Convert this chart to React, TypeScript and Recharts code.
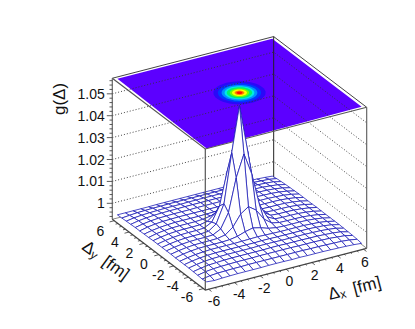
import { ScatterChart, Scatter, XAxis, YAxis } from "recharts";

const WIDTH = 415;
const HEIGHT = 329;
const FONT = "'Liberation Sans', Arial, sans-serif";

// mesh nodes, -6 .. 6 in steps of 0.6 on both axes
const meshAxis = [
  -6, -5.4, -4.8, -4.2, -3.6, -3, -2.4, -1.8, -1.2, -0.6, 0, 0.6, 1.2, 1.8, 2.4, 3, 3.6, 4.2, 4.8, 5.4, 6,
];

// g(x, y), in units of 1e-4 above 0.99; rows run from y = -6 to y = 6
const surfaceRows = [
  [54, 51, 53, 54, 55, 55, 55, 55, 56, 56, 56, 55, 56, 55, 55, 55, 54, 53, 52, 50, 47],
  [51, 57, 60, 61, 62, 62, 63, 63, 63, 63, 63, 63, 63, 63, 62, 62, 61, 60, 59, 56, 50],
  [53, 60, 64, 66, 67, 68, 68, 68, 69, 69, 69, 69, 69, 68, 68, 68, 67, 66, 63, 60, 52],
  [54, 61, 66, 68, 70, 71, 71, 71, 71, 71, 72, 72, 71, 71, 71, 70, 70, 68, 66, 62, 53],
  [55, 62, 67, 70, 71, 72, 72, 72, 72, 73, 73, 73, 72, 72, 72, 72, 71, 70, 67, 63, 54],
  [55, 62, 67, 70, 72, 72, 72, 72, 72, 72, 73, 73, 72, 72, 72, 72, 72, 70, 68, 63, 55],
  [55, 62, 67, 70, 72, 72, 72, 72, 73, 74, 75, 74, 73, 72, 72, 72, 72, 70, 68, 63, 55],
  [55, 63, 68, 71, 72, 72, 72, 74, 80, 92, 100, 92, 80, 74, 72, 72, 72, 71, 68, 63, 55],
  [56, 63, 68, 71, 72, 72, 73, 80, 107, 157, 182, 157, 107, 80, 73, 72, 72, 71, 68, 63, 55],
  [56, 63, 68, 71, 72, 72, 74, 92, 157, 307, 407, 307, 157, 92, 74, 72, 72, 71, 68, 63, 55],
  [56, 63, 68, 71, 72, 72, 75, 100, 182, 407, 612, 407, 182, 100, 75, 72, 72, 71, 68, 63, 56],
  [56, 63, 68, 71, 72, 72, 74, 92, 157, 307, 407, 307, 157, 92, 74, 72, 72, 71, 68, 63, 55],
  [56, 63, 68, 71, 72, 72, 73, 80, 107, 157, 182, 157, 107, 80, 73, 72, 72, 71, 68, 63, 55],
  [55, 63, 68, 71, 72, 72, 72, 74, 80, 92, 100, 92, 80, 74, 72, 72, 72, 71, 68, 63, 55],
  [55, 62, 67, 70, 72, 72, 72, 72, 73, 74, 75, 74, 73, 72, 72, 72, 72, 70, 68, 63, 55],
  [54, 62, 67, 70, 71, 72, 72, 72, 72, 72, 72, 72, 72, 72, 72, 72, 71, 70, 67, 62, 54],
  [54, 61, 66, 69, 70, 71, 71, 71, 72, 72, 72, 72, 71, 71, 71, 71, 70, 69, 66, 61, 53],
  [53, 60, 64, 67, 68, 69, 69, 70, 70, 70, 70, 70, 70, 70, 69, 69, 68, 67, 64, 60, 52],
  [52, 58, 61, 63, 64, 65, 65, 65, 66, 66, 66, 66, 66, 65, 65, 65, 64, 63, 61, 58, 50],
  [51, 54, 57, 58, 59, 59, 60, 60, 60, 60, 60, 60, 60, 60, 60, 59, 59, 58, 56, 54, 48],
  [50, 50, 50, 50, 50, 51, 51, 51, 51, 51, 51, 51, 51, 51, 51, 51, 50, 50, 49, 47, 44],
];

// colour rings of the map on the lid, outermost first
const ringRadii = [1.75, 1.45, 1.2, 1.0, 0.85, 0.65, 0.5, 0.33, 0.2];
const ringColors = ["#2a08f8", "#0038ff", "#0090ff", "#00e8e8", "#00f070", "#70ff00", "#ffff00", "#ff8000", "#ff1000"];

const gTicks = [1, 1.01, 1.02, 1.03, 1.04, 1.05];
const gMinorTicks = [
  0.994, 0.996, 0.998, 1.002, 1.004, 1.006, 1.008, 1.012, 1.014, 1.016, 1.018, 1.022, 1.024, 1.026, 1.028, 1.032,
  1.034, 1.036, 1.038, 1.042, 1.044, 1.046, 1.048, 1.052, 1.054, 1.056,
];
const deltaTicks = [-6, -4, -2, 0, 2, 4, 6];
const deltaMinorTicks = [-5.5, -5, -4.5, -3.5, -3, -2.5, -1.5, -1, -0.5, 0.5, 1, 1.5, 2.5, 3, 3.5, 4.5, 5, 5.5];

const BOX = 6.25;
const Z_FLOOR = 0.9927;
const Z_TOP = 1.0571;

// oblique view of the cube, gives page pixels that the hidden axes then map 1:1
const project = (x: number, y: number, z: number) => ({
  sx: 205.3 + (x + BOX) * 12.91 - (y + BOX) * 7.44,
  sy: 290 - (x + BOX) * 3.336 - (y + BOX) * 5.656 - (z - Z_FLOOR) * 2190,
});

const heightAt = (col: number, row: number) => 0.99 + surfaceRows[row][col] / 10000;

const polygonPoint = (corners: { sx: number; sy: number }[]) => ({
  ...corners[0],
  corners,
});

// painted from the far corner to the near one so the white cells hide what is behind
const meshCells: any[] = [];
for (let row = meshAxis.length - 2; row >= 0; row--) {
  for (let col = meshAxis.length - 2; col >= 0; col--) {
    meshCells.push(
      polygonPoint([
        project(meshAxis[col], meshAxis[row], heightAt(col, row)),
        project(meshAxis[col + 1], meshAxis[row], heightAt(col + 1, row)),
        project(meshAxis[col + 1], meshAxis[row + 1], heightAt(col + 1, row + 1)),
        project(meshAxis[col], meshAxis[row + 1], heightAt(col, row + 1)),
      ]),
    );
  }
}

const lid = [
  polygonPoint([
    project(-6, -6, Z_TOP - 0.0008),
    project(6, -6, Z_TOP),
    project(6, 6, Z_TOP),
    project(-6, 6, Z_TOP),
  ]),
];

const ringPoint = (radius: number, index: number) => {
  const t = (index / 48) * 2 * Math.PI;
  return project(radius * Math.cos(t), radius * Math.sin(t), Z_TOP);
};
const rings = ringRadii.map((radius) =>
  polygonPoint(Array.from({ length: 48 }, (_, i) => ringPoint(radius, i))),
);

const PolygonMark = (props: any) => {
  const { cx, cy, payload, fill, stroke, strokeWidth } = props;
  const shiftX = cx - payload.sx;
  const shiftY = cy - payload.sy;
  const points = payload.corners.map((c: any) => `${c.sx + shiftX},${c.sy + shiftY}`).join(" ");
  return <polygon points={points} fill={fill} stroke={stroke ?? "none"} strokeWidth={strokeWidth} strokeLinejoin="round" />;
};

const TickMark = (props: any) => {
  const { cx, cy, payload } = props;
  return <line x1={cx} y1={cy} x2={cx + payload.dx} y2={cy + payload.dy} stroke="#333" strokeWidth={0.8} />;
};

const TextMark = (props: any) => {
  const { cx, cy, payload } = props;
  return (
    <text
      x={cx}
      y={cy}
      textAnchor={payload.anchor ?? "middle"}
      dominantBaseline="central"
      fontFamily={FONT}
      fontSize={payload.size ?? 14}
      fill="#111"
      transform={payload.angle ? `rotate(${payload.angle} ${cx} ${cy})` : undefined}
    >
      {payload.text}
      {payload.sub ? (
        <tspan dy={3} fontSize={12}>
          {payload.sub}
        </tspan>
      ) : null}
      {payload.unit ? (
        <tspan dy={payload.sub ? -3 : 0} dx={8}>
          {payload.unit}
        </tspan>
      ) : null}
    </text>
  );
};

const NoMark = () => <g />;

const shifted = (p: { sx: number; sy: number }, dx: number, dy: number) => ({ sx: p.sx + dx, sy: p.sy + dy });

// dotted level lines on the two back walls
const levelLines = gTicks.map((g) => [project(-BOX, BOX, g), project(BOX, BOX, g), project(BOX, -BOX, g)]);

const boxEdges = [
  { color: "#444", width: 1, points: [project(-BOX, BOX, Z_TOP), project(BOX, BOX, Z_TOP), project(BOX, -BOX, Z_TOP)] },
  { color: "#222", width: 1, points: [project(BOX, BOX, Z_TOP), project(BOX, BOX, Z_FLOOR)] },
  { color: "#555", width: 1.2, points: [project(-BOX, BOX, Z_TOP), project(-BOX, -BOX, Z_TOP), project(BOX, -BOX, Z_TOP)] },
  { color: "#666", width: 1.2, points: [project(-BOX, BOX, Z_TOP), project(-BOX, BOX, Z_FLOOR)] },
  { color: "#666", width: 1.2, points: [project(BOX, -BOX, Z_TOP), project(BOX, -BOX, Z_FLOOR)] },
  { color: "#888", width: 1, points: [project(-BOX, BOX, Z_FLOOR), project(BOX, BOX, Z_FLOOR), project(BOX, -BOX, Z_FLOOR)] },
];

const frontEdges = [
  { color: "#555", width: 1.2, points: [project(-BOX, -BOX, Z_TOP), project(-BOX, -BOX, Z_FLOOR)] },
  { color: "#444", width: 1.2, points: [project(-BOX, BOX, Z_FLOOR), project(-BOX, -BOX, Z_FLOOR), project(BOX, -BOX, Z_FLOOR)] },
];

const zTickMarks = [
  ...gTicks.map((g) => ({ ...project(-BOX, BOX, g), dx: -5.5, dy: 0 })),
  ...gMinorTicks.map((g) => ({ ...project(-BOX, BOX, g), dx: -2.8, dy: 0 })),
];
const xTickMarks = [
  ...deltaTicks.map((x) => ({ ...project(x, -BOX, Z_FLOOR), dx: 3, dy: 2.3 })),
  ...deltaMinorTicks.map((x) => ({ ...project(x, -BOX, Z_FLOOR), dx: 1.5, dy: 1.2 })),
];
const yTickMarks = [
  ...deltaTicks.map((y) => ({ ...project(-BOX, y, Z_FLOOR), dx: -4.5, dy: 1.2 })),
  ...deltaMinorTicks.map((y) => ({ ...project(-BOX, y, Z_FLOOR), dx: -2.3, dy: 0.6 })),
];

const tickLabels = [
  ...gTicks.map((g) => ({ ...shifted(project(-BOX, BOX, g), -7.5, 0), text: String(g), anchor: "end" })),
  ...deltaTicks.map((x) => ({ ...shifted(project(x * 0.975, -BOX, Z_FLOOR), 3.5, 12), text: String(x) })),
  ...deltaTicks.map((y) => ({ ...shifted(project(-BOX, y * 0.97, Z_FLOOR), -15, 9), text: String(y) })),
];

const axisTitles = [
  { sx: 59, sy: 99, text: "g(\u0394)", size: 17, angle: -90 },
  { sx: 106, sy: 260, text: "\u0394", sub: "y", unit: "[fm]", size: 17, angle: 36 },
  { sx: 354.5, sy: 288, text: "\u0394", sub: "x", unit: "[fm]", size: 17, angle: -14.5 },
];

const App = () => (
  <div style={{ position: "absolute", left: 0, top: 0 }}>
    <ScatterChart width={WIDTH} height={HEIGHT} margin={{ top: 0, right: 0, bottom: 0, left: 0 }}>
      <XAxis type="number" dataKey="sx" domain={[0, WIDTH]} hide />
      <YAxis type="number" dataKey="sy" domain={[0, HEIGHT]} reversed hide />

      <Scatter data={lid} isAnimationActive={false} shape={(p: any) => <PolygonMark {...p} fill="#5c00ff" />} />
      {rings.map((ring, i) => (
        <Scatter
          key={ringRadii[i]}
          data={[ring]}
          isAnimationActive={false}
          shape={(p: any) => <PolygonMark {...p} fill={ringColors[i]} />}
        />
      ))}

      {levelLines.map((line, i) => (
        <Scatter
          key={gTicks[i]}
          data={line}
          isAnimationActive={false}
          shape={NoMark}
          line={{ stroke: "#333", strokeWidth: 0.9, strokeDasharray: "1 2", fill: "none" }}
        />
      ))}
      {boxEdges.map((edge, i) => (
        <Scatter
          key={`box-${i}`}
          data={edge.points}
          isAnimationActive={false}
          shape={NoMark}
          line={{ stroke: edge.color, strokeWidth: edge.width, fill: "none" }}
        />
      ))}

      <Scatter
        data={meshCells}
        isAnimationActive={false}
        shape={(p: any) => <PolygonMark {...p} fill="#ffffff" stroke="#2020b8" strokeWidth={0.8} />}
      />

      {frontEdges.map((edge, i) => (
        <Scatter
          key={`front-${i}`}
          data={edge.points}
          isAnimationActive={false}
          shape={NoMark}
          line={{ stroke: edge.color, strokeWidth: edge.width, fill: "none" }}
        />
      ))}

      <Scatter data={zTickMarks} isAnimationActive={false} shape={TickMark} />
      <Scatter data={xTickMarks} isAnimationActive={false} shape={TickMark} />
      <Scatter data={yTickMarks} isAnimationActive={false} shape={TickMark} />
      <Scatter data={tickLabels} isAnimationActive={false} shape={TextMark} />
      <Scatter data={axisTitles} isAnimationActive={false} shape={TextMark} />
    </ScatterChart>
  </div>
);

export default App;
